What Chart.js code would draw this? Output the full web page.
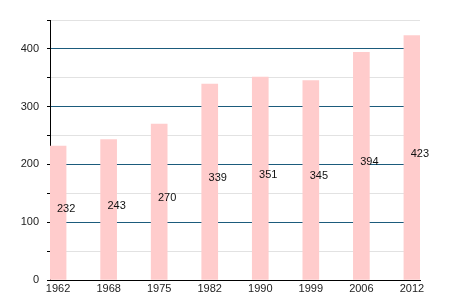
<!DOCTYPE html>
<html lang="en">
<head>
    <meta charset="UTF-8">
    <title>Population chart</title>
    <script src="https://cdn.jsdelivr.net/npm/chart.js"></script>
    <style>
        html, body { margin: 0; padding: 0; background: #fff; }
        #wrap { width: 450px; height: 300px; }
    </style>
</head>
<body>
    <div id="wrap"><canvas id="popChart"></canvas></div>

    <script>
        // data
        const years = ['1962', '1968', '1975', '1982', '1990', '1999', '2006', '2012'];
        const population = [232, 243, 270, 339, 351, 345, 394, 423];

        // value labels, drawn half way up the bar at its right edge
        const valueLabels = {
            id: 'valueLabels',
            afterDatasetsDraw(chart) {
                const ctx = chart.ctx;
                const xs = chart.scales.x, ys = chart.scales.y;
                ctx.save();
                ctx.font = '11px "Liberation Sans", Arial, sans-serif';
                ctx.fillStyle = '#111';
                ctx.textAlign = 'center';
                ctx.textBaseline = 'middle';
                population.forEach((v, i) => {
                    const x = xs.getPixelForValue(i) + 8;
                    const y = ys.getPixelForValue(v / 2) - 4;
                    ctx.fillText(String(v), x, y);
                });
                ctx.restore();
            }
        };

        new Chart(document.getElementById('popChart'), {
            type: 'bar',
            data: {
                datasets: [{
                    data: population.map((v, i) => ({ x: i, y: v })),
                    backgroundColor: '#ffcccc',
                    borderWidth: 0,
                    barThickness: 16
                }]
            },
            options: {
                responsive: true,
                maintainAspectRatio: false,
                animation: false,
                layout: { padding: { top: 20, right: 30, left: 0, bottom: 0 } },
                plugins: { legend: { display: false }, tooltip: { enabled: false } },
                scales: {
                    x: {
                        type: 'linear',
                        offset: false,
                        min: -0.16,
                        max: 7.16,
                        afterBuildTicks: axis => { axis.ticks = years.map((_, i) => ({ value: i })); },
                        afterFit: axis => { axis.height = 20; },
                        border: { color: '#000', width: 1 },
                        grid: { offset: false, drawOnChartArea: false, drawTicks: false },
                        ticks: {
                            padding: 2,
                            maxRotation: 0,
                            autoSkip: false,
                            color: '#222',
                            font: { family: '"Liberation Sans", Arial, sans-serif', size: 11 },
                            callback: v => years[v]
                        }
                    },
                    y: {
                        min: 0,
                        max: 450,
                        afterFit: axis => { axis.width = 50; },
                        border: { color: '#000', width: 1 },
                        grid: {
                            color: c => (c.tick.value % 100 === 0 ? '#1b5b7c' : '#e2e2e2'),
                            tickColor: '#000',
                            tickLength: 3
                        },
                        ticks: {
                            stepSize: 25,
                            padding: 8,
                            color: '#222',
                            font: { family: '"Liberation Sans", Arial, sans-serif', size: 11 },
                            callback: v => (v % 100 === 0 ? v : '')
                        }
                    }
                }
            },
            plugins: [valueLabels]
        });
    </script>
</body>
</html>
